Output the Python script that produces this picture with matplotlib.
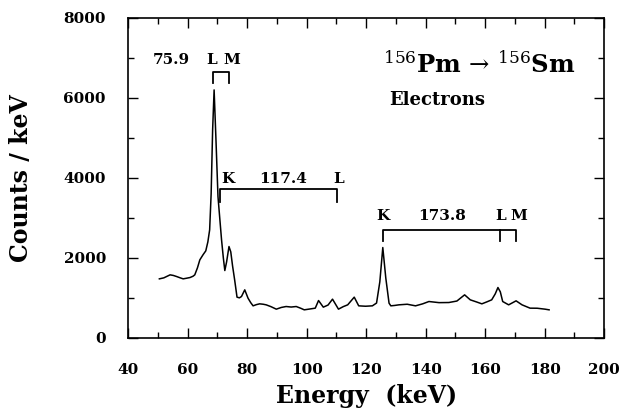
import matplotlib.pyplot as plt
from matplotlib.ticker import MultipleLocator

plt.rcParams['mathtext.fontset'] = 'dejavuserif'
plt.rcParams['mathtext.default'] = 'rm'

energy = [50.5, 52.0, 54.1, 55.2, 56.3, 57.5, 58.5, 59.6, 60.8, 61.8, 62.4, 63.3, 64.1,
          65.2, 66.1, 66.8, 67.4, 67.9, 68.4, 68.9, 69.5, 70.2, 70.9, 71.4, 72.0, 72.5,
          73.1, 73.9, 74.5, 75.1, 75.8, 76.6, 77.4, 78.1, 79.2, 80.3, 81.2, 82.0, 83.1,
          84.2, 85.4, 86.4, 88.0, 89.8, 91.5, 93.1, 94.8, 96.5, 98.0, 99.2, 101.0, 102.9,
          104.0, 105.6, 107.2, 108.7, 110.7, 112.3, 113.8, 116.0, 117.5, 119.8, 122.1,
          123.5, 124.6, 125.6, 126.6, 127.7, 128.3, 129.6, 131.0, 133.8, 136.6, 139.0,
          141.1, 144.5, 147.8, 150.5, 153.1, 155.0, 157.0, 158.9, 160.6, 162.2, 163.4,
          164.3, 165.1, 165.9, 167.9, 170.4, 172.4, 175.1, 177.5, 180.1, 181.5]
counts = [1475, 1500, 1575, 1560, 1533, 1500, 1475, 1490, 1508, 1540, 1575, 1750, 1950,
          2080, 2175, 2400, 2700, 3600, 5200, 6200, 5000, 3533, 2900, 2450, 2000, 1683,
          1900, 2283, 2150, 1800, 1450, 1017, 1000, 1033, 1200, 992, 880, 800, 830,
          850, 840, 825, 780, 717, 760, 783, 770, 783, 740, 700, 720, 742,
          933, 767, 820, 967, 717, 780, 825, 1017, 800, 790, 800,
          870, 1400, 2258, 1500, 867, 800, 810, 825, 840, 800, 850,
          908, 880, 883, 920, 1075, 950, 900, 850, 900, 950, 1100,
          1258, 1150, 908, 825, 925, 825, 742, 740, 717, 700]

x_ticks = [40, 60, 80, 100, 120, 140, 160, 180, 200]
y_ticks = [0, 2000, 4000, 6000, 8000]

fig = plt.figure(figsize=(6.19, 4.08), dpi=100)
ax = fig.add_axes([0.207, 0.172, 0.769, 0.784])
ax.plot(energy, counts, color='black', lw=1.1)

ax.set_xlim(40, 200)
ax.set_ylim(0, 8000)
ax.set_xticks(x_ticks)
ax.set_yticks(y_ticks)
ax.xaxis.set_minor_locator(MultipleLocator(10))
ax.yaxis.set_minor_locator(MultipleLocator(1000))
ax.tick_params(which='both', direction='in', top=True, right=True, width=1)
ax.tick_params(which='major', length=7)
ax.tick_params(which='minor', length=4)
ax.tick_params(axis='x', which='major', pad=18)
ax.tick_params(axis='y', which='major', pad=16)
for s in ax.spines.values():
    s.set_linewidth(1.2)

fnt = dict(family='DejaVu Serif', weight='bold')
for lab in ax.get_xticklabels() + ax.get_yticklabels():
    lab.set_fontfamily('DejaVu Serif')
    lab.set_fontweight('bold')
    lab.set_fontsize(11)

ax.set_xlabel('Energy  (keV)', fontsize=17, **fnt)
ax.set_ylabel('Counts / keV', fontsize=17, **fnt)
ax.xaxis.set_label_coords(0.5, -0.145)
ax.yaxis.set_label_coords(-0.2, 0.5)

def bracket(x0, x1, ytop, ybot, mids=()):
    ax.plot([x0, x0, x1, x1], [ybot, ytop, ytop, ybot], color='black', lw=1.3)
    for m in mids:
        ax.plot([m, m], [ytop, ybot], color='black', lw=1.3)

# 75.9 keV
bracket(68.5, 73.9, 6650, 6370)
ax.text(54.5, 6950, '75.9', ha='center', va='center', fontsize=11, **fnt)
ax.text(68.2, 6950, 'L', ha='center', va='center', fontsize=11, **fnt)
ax.text(75.0, 6950, 'M', ha='center', va='center', fontsize=11, **fnt)

# 117.4 keV
bracket(71.0, 110.2, 3720, 3390)
ax.text(73.6, 3970, 'K', ha='center', va='center', fontsize=11, **fnt)
ax.text(92.0, 3970, '117.4', ha='center', va='center', fontsize=11, **fnt)
ax.text(110.6, 3970, 'L', ha='center', va='center', fontsize=11, **fnt)

# 173.8 keV
bracket(125.8, 170.4, 2700, 2410, mids=[165.1])
ax.text(125.8, 3040, 'K', ha='center', va='center', fontsize=11, **fnt)
ax.text(145.5, 3040, '173.8', ha='center', va='center', fontsize=11, **fnt)
ax.text(165.1, 3040, 'L', ha='center', va='center', fontsize=11, **fnt)
ax.text(171.4, 3040, 'M', ha='center', va='center', fontsize=11, **fnt)

ax.text(158, 6850, r'$^{156}$Pm$\,\rightarrow\,$$^{156}$Sm', ha='center', va='center',
        fontsize=17.5, **fnt)
ax.text(144, 5950, 'Electrons', ha='center', va='center', fontsize=13, **fnt)

fig.savefig('out.png', dpi=100)
